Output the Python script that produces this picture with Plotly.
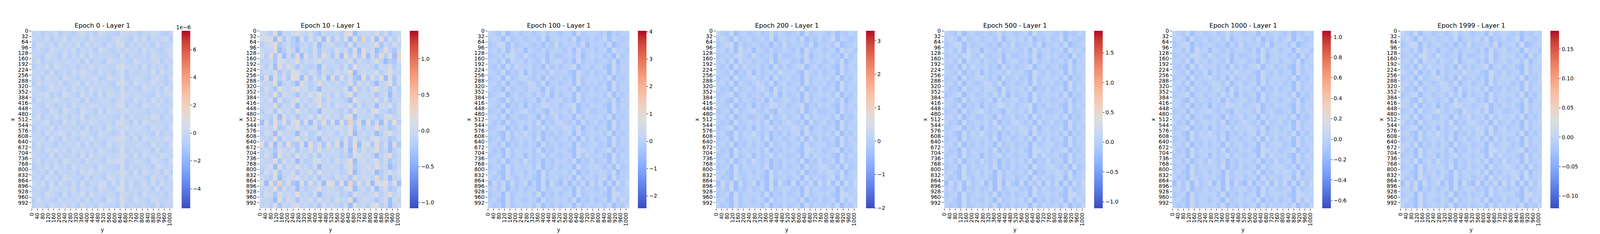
import plotly.graph_objects as go

epochs = [0, 10, 100, 200, 500, 1000, 1999]

# 1024x1024 weight matrices read as 32x32 blocks, one digit per block,
# each digit is looked up in the level table of its panel
grid_0 = [
    "45354635 43564536 54436545 35465435",
    "54463546 35453645 43565436 46354563",
    "36545364 54636454 35467354 54536445",
    "45436545 46354536 54354645 36454356",
    "54365436 35463645 45436354 45365446",
    "46354545 54536354 36545436 54456354",
    "35463654 45354645 54467545 36354536",
    "54536345 36465436 45356354 45463645",
    "45364536 54354563 36546345 54356436",
    "36455463 45636454 54367536 45464535",
    "54346545 36453645 45436354 36545364",
    "45563436 54364536 36547545 54436456",
    "36454654 45536345 54356436 45364535",
    "54365345 36454654 45467354 36546445",
    "45436536 54365436 36545645 54354536",
    "46354645 35463545 54436354 45466354",
    "54563436 46354654 45367536 36545445",
    "35446354 54536345 36455645 54364536",
    "45364565 36465436 54346354 45436354",
    "54536436 45354645 45567536 36545465",
    "36454354 54636354 36456445 54364536",
    "45365645 36454536 54347354 45536345",
    "54436354 45363645 45456536 36454654",
    "46354536 54536454 36567345 54365436",
    "35463645 36454536 54436354 45436545",
    "54536354 45365645 45457536 36545364",
    "45364536 54436354 36546445 54364536",
    "64636364 36363546 63637363 46363645",
    "45436545 46354536 54367354 45536354",
    "54365436 35463645 45436545 36454536",
    "36454354 54536354 36547436 54365445",
    "45536546 45364536 54436354 45436354",
]

grid_10 = [
    "65381546 75463254 45368145 54736245",
    "67718263 17263718 26371829 37182637",
    "35682453 24536145 53427254 45825364",
    "54481364 15436254 36452718 46138426",
    "73827162 81736285 27183728 16283719",
    "44527645 83546745 53447254 35841326",
    "53618475 25434164 45362845 54264735",
    "45472537 74365254 36458146 45735844",
    "28173628 71826371 82736218 27381726",
    "54481453 17534845 45347264 53145826",
    "36427546 85634154 54461835 36845263",
    "45382654 25475845 36358245 45246154",
    "54617345 74536736 45431854 54736245",
    "45482546 15354845 36547263 45165736",
    "35627453 84534165 54352845 36844236",
    "54371645 25463856 45368154 45236745",
    "17283726 82716382 71829371 82617283",
    "45482365 74356245 46547263 54845236",
    "36517454 15634745 53648145 45136845",
    "54382645 84534154 45362745 36745236",
    "82716283 27183627 38172816 72836172",
    "45427546 25463845 54361836 45835146",
    "36418453 74536254 45342765 54146835",
    "54482645 15346745 36458156 45736245",
    "45617354 84536154 54367245 64845136",
    "36482546 25463845 45348145 46135746",
    "54371465 74536254 36452745 54836145",
    "71829372 18273618 72819273 81778371",
    "45482635 15345845 54367145 36146236",
    "36527454 84536145 45342754 45735846",
    "54418365 25463745 36548145 54246164",
    "45372546 74535264 54361745 36835146",
]

# epochs 100 to 1999 keep the same structure, only the scale changes
grid_late = [
    "74362453 45346354 34526345 43524354",
    "47426345 34536245 45362435 34625434",
    "34762534 54342536 34453624 45362345",
    "45372645 25435345 43526345 34526453",
    "34537643 64345253 34536245 45342635",
    "45362745 35436245 53426345 34536245",
    "43526374 45342635 34562453 45326354",
    "54362437 25345364 45326435 34526345",
    "34526345 74352634 53426345 45362435",
    "45362543 47536245 34526354 53426345",
    "53426345 35742635 45362435 34526354",
    "34562453 45373625 34526345 45362435",
    "45326354 34527345 53426354 34536245",
    "54362435 25346745 34562435 45326354",
    "34526345 64353274 45362453 34526345",
    "45362453 35426347 34526354 45362435",
    "53426345 45362435 74352634 53426345",
    "34562435 25346354 47536245 34526354",
    "45326354 64352435 35726345 45362435",
    "34526345 45362453 45372635 34526354",
    "45362435 35426345 34527345 53426345",
    "53426354 45362435 45326745 34562435",
    "34526345 25346354 34526374 45326354",
    "45362453 64352435 45362437 34526345",
    "34526354 45362435 34526345 74352634",
    "45326345 35426354 45362435 47536245",
    "53426435 45326345 34526354 35726345",
    "26362634 62526263 26253626 36272636",
    "45362435 34526345 53426354 34527345",
    "34526345 45362435 34526345 45326745",
    "45326354 35426345 45362435 34526374",
    "53426345 45362435 34526354 45362437",
]

levels_0 = [-1.96e-6, -1.45e-6, -1.06e-6, -0.68e-6, -0.36e-6, -0.11e-6, 0.21e-6, 0.45e-6, 1.36e-6, 2.0e-6]
levels_10 = [-0.45, -0.34, -0.24, -0.16, -0.09, -0.03, 0.03, 0.10, 0.19, 0.32]
levels_100 = [-1.0, -0.70, -0.44, -0.21, -0.05, 0.08, 0.27, 0.20, 0.92, 1.44]
levels_200 = [-0.84, -0.58, -0.36, -0.18, -0.05, 0.06, 0.22, 0.16, 0.75, 1.18]
levels_500 = [-0.45, -0.31, -0.19, -0.08, -0.01, 0.05, 0.14, 0.10, 0.44, 0.68]
levels_1000 = [-0.29, -0.21, -0.14, -0.08, -0.03, 0.00, 0.05, 0.03, 0.23, 0.37]
levels_1999 = [-0.055, -0.040, -0.027, -0.017, -0.009, -0.003, 0.006, 0.003, 0.036, 0.060]

zmins = [-5.4e-6, -1.08, -2.45, -2.01, -1.11, -0.675, -0.121]
zmaxs = [7.35e-6, 1.39, 4.03, 3.30, 1.87, 1.06, 0.181]

cbar_ticks = [
    [-4e-6, -2e-6, 0, 2e-6, 4e-6, 6e-6],
    [-1.0, -0.5, 0.0, 0.5, 1.0],
    [-2, -1, 0, 1, 2, 3, 4],
    [-2, -1, 0, 1, 2, 3],
    [-1.0, -0.5, 0.0, 0.5, 1.0, 1.5],
    [-0.6, -0.4, -0.2, 0.0, 0.2, 0.4, 0.6, 0.8, 1.0],
    [-0.10, -0.05, 0.00, 0.05, 0.10, 0.15],
]
cbar_labels = [
    ["−4", "−2", "0", "2", "4", "6"],
    ["−1.0", "−0.5", "0.0", "0.5", "1.0"],
    ["−2", "−1", "0", "1", "2", "3", "4"],
    ["−2", "−1", "0", "1", "2", "3"],
    ["−1.0", "−0.5", "0.0", "0.5", "1.0", "1.5"],
    ["−0.6", "−0.4", "−0.2", "0.0", "0.2", "0.4", "0.6", "0.8", "1.0"],
    ["−0.10", "−0.05", "0.00", "0.05", "0.10", "0.15"],
]

y_ticks = [0, 32, 64, 96, 128, 160, 192, 224, 256, 288, 320, 352, 384, 416, 448, 480,
           512, 544, 576, 608, 640, 672, 704, 736, 768, 800, 832, 864, 896, 928, 960, 992]
x_ticks = [0, 40, 80, 120, 160, 200, 240, 280, 320, 360, 400, 440, 480, 520, 560, 600,
           640, 680, 720, 760, 800, 840, 880, 920, 960, 1000]

grids = [grid_0, grid_10, grid_late, grid_late, grid_late, grid_late, grid_late]
levels = [levels_0, levels_10, levels_100, levels_200, levels_500, levels_1000, levels_1999]

# matplotlib coolwarm
cw = [(59, 76, 192), (68, 90, 204), (77, 104, 215), (87, 117, 225), (98, 130, 234),
      (108, 142, 241), (119, 154, 247), (130, 165, 251), (141, 176, 254), (152, 185, 255),
      (163, 194, 255), (174, 201, 253), (184, 208, 249), (194, 213, 244), (204, 217, 238),
      (213, 219, 230), (221, 221, 221), (229, 216, 209), (236, 211, 197), (241, 204, 185),
      (245, 196, 173), (247, 187, 160), (247, 177, 148), (247, 166, 135), (244, 154, 123),
      (241, 141, 111), (236, 127, 99), (229, 112, 88), (222, 96, 77), (213, 80, 66),
      (203, 62, 56), (192, 40, 47), (180, 4, 38)]
coolwarm = [[i / 32, "rgb(%d,%d,%d)" % c] for i, c in enumerate(cw)]

W, H = 4200, 600
S = 0.975          # the page is resized to the window below, pixel sizes follow
FONT = "DejaVu Sans"
TICK = 14 * S
top, bottom = 72, 533

fig = go.Figure()
annotations = []
for k, ep in enumerate(epochs):
    left = 75 + 600 * k
    right = 447 + 600 * k
    lv = levels[k]
    z = [[lv[int(c)] for c in row.replace(" ", "")] for row in grids[k]]
    n = str(k + 1)
    fig.add_trace(go.Heatmap(
        z=z, x0=16, dx=32, y0=16, dy=32,
        zmin=zmins[k], zmax=zmaxs[k], colorscale=coolwarm,
        xaxis="x" + n, yaxis="y" + n, hoverinfo="skip",
        colorbar=dict(
            x=(470 + 600 * k) / W, xanchor="left", xpad=0,
            y=1 - top / H, yanchor="top", ypad=0,
            len=(bottom - top) / H, lenmode="fraction",
            thickness=23 * S, thicknessmode="pixels", outlinewidth=0,
            tickmode="array", tickvals=cbar_ticks[k], ticktext=cbar_labels[k],
            ticks="outside", ticklen=5 * S, tickwidth=1, tickcolor="black",
            tickfont=dict(family=FONT, size=TICK, color="black"),
        ),
    ))
    fig.layout["xaxis" + n] = dict(
        domain=[left / W, right / W], anchor="y" + n, range=[0, 1024],
        tickmode="array", tickvals=[t + 0.5 for t in x_ticks],
        ticktext=[str(t) for t in x_ticks], tickangle=-90,
        ticks="outside", ticklen=5 * S, tickwidth=1, tickcolor="black",
        tickfont=dict(family=FONT, size=TICK, color="black"),
        showgrid=False, zeroline=False, showline=False,
    )
    fig.layout["yaxis" + n] = dict(
        domain=[1 - bottom / H, 1 - top / H], anchor="x" + n, range=[1024, 0],
        tickmode="array", tickvals=[t + 0.5 for t in y_ticks],
        ticktext=[str(t) for t in y_ticks],
        ticks="outside", ticklen=5 * S, tickwidth=1, tickcolor="black",
        tickfont=dict(family=FONT, size=TICK, color="black"),
        showgrid=False, zeroline=False, showline=False,
    )
    mid = (left + right) / 2
    annotations.append(dict(
        text="Epoch %d - Layer 1" % ep, x=mid / W, y=1 - 58 / H,
        xref="paper", yref="paper", xanchor="center", yanchor="middle",
        showarrow=False, font=dict(family=FONT, size=16.7 * S, color="black")))
    annotations.append(dict(
        text="y", x=mid / W, y=1 - 589 / H,
        xref="paper", yref="paper", xanchor="center", yanchor="middle",
        showarrow=False, font=dict(family=FONT, size=TICK, color="black")))
    annotations.append(dict(
        text="x", x=(25 + 600 * k) / W, y=1 - (top + bottom) / 2 / H, textangle=-90,
        xref="paper", yref="paper", xanchor="center", yanchor="middle",
        showarrow=False, font=dict(family=FONT, size=TICK, color="black")))

annotations.append(dict(
    text="1e−6", x=474 / W, y=1 - 63 / H,
    xref="paper", yref="paper", xanchor="center", yanchor="middle",
    showarrow=False, font=dict(family=FONT, size=TICK, color="black")))

fig.update_layout(
    width=W, height=H, autosize=False,
    margin=dict(l=0, r=0, t=0, b=0),
    paper_bgcolor="white", plot_bgcolor="white",
    showlegend=False, annotations=annotations,
    font=dict(family=FONT, size=TICK, color="black"),
)

# fit the figure to the real window size, without page margin
post = ("document.body.style.margin='0';document.body.style.overflow='hidden';"
        "var gd=document.getElementById('{plot_id}');"
        "Plotly.relayout(gd,{width:window.innerWidth,height:window.innerHeight});")
fig.write_html("out.html", config={"displayModeBar": False}, post_script=post)
